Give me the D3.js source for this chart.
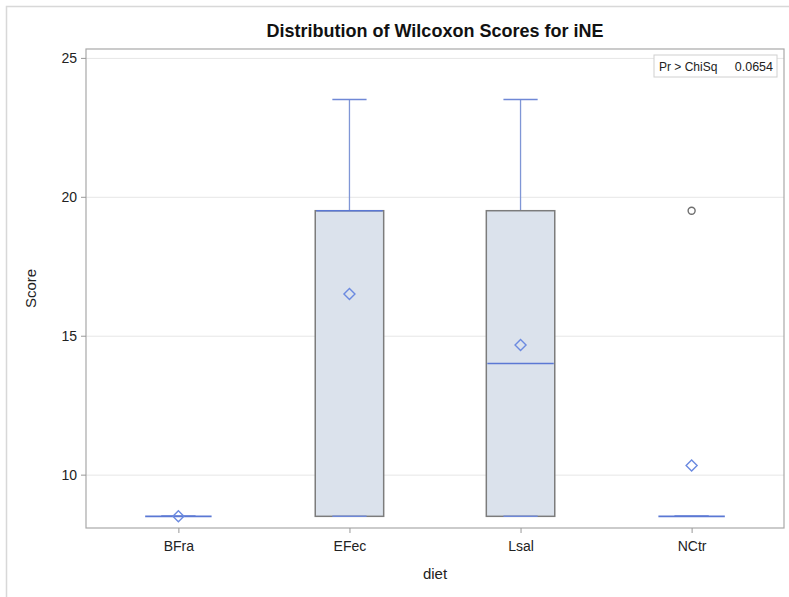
<!DOCTYPE html>
<html>
<head>
<meta charset="utf-8">
<script src="https://cdn.jsdelivr.net/npm/d3@7"></script>
<style>
  html, body { margin: 0; padding: 0; background: #fff; }
  svg { display: block; font-family: "Liberation Sans", Arial, sans-serif; }
</style>
</head>
<body>
<svg id="chart" width="789" height="597"></svg>
<script>
// Wilcoxon score summaries per diet group
const categories = ["BFra", "EFec", "Lsal", "NCtr"];
const whiskerLow = [8.5, 8.5, 8.5, 8.5];
const q1 = [8.5, 8.5, 8.5, 8.5];
const median = [8.5, 19.5, 14.0, 8.5];
const q3 = [8.5, 19.5, 19.5, 8.5];
const whiskerHigh = [8.5, 23.5, 23.5, 8.5];
const means = [8.5, 16.5, 14.67, 10.33];
const outliers = [[], [], [], [19.5]];
const yTicks = [10, 15, 20, 25];
const pValueLabel = "Pr > ChiSq";
const pValue = "0.0654";

const svg = d3.select("#chart");
const W = 789, H = 597;
const margin = { left: 86, right: 5, top: 49, bottom: 69 };
const plotL = margin.left, plotR = W - margin.right, plotT = margin.top, plotB = H - margin.bottom;

// outer frame
svg.append("path")
  .attr("d", `M6.5,${H} V6.5 H${W}`)
  .attr("fill", "none").attr("stroke", "#d8d8d8").attr("stroke-width", 1.5);

const x = d3.scalePoint().domain(categories).range([plotL, plotR]).padding(0.54);
const y = d3.scaleLinear().domain([8.08, 25.32]).range([plotB, plotT]);
const boxW = x.step() * 0.4;

// gridlines
svg.append("g").selectAll("line").data(yTicks).join("line")
  .attr("x1", plotL).attr("x2", plotR)
  .attr("y1", d => y(d) + 0.5).attr("y2", d => y(d) + 0.5)
  .attr("stroke", "#e6e6e6").attr("stroke-width", 1);

// boxes
const g = svg.append("g");
categories.forEach((c, i) => {
  const cx = x(c);
  // whiskers
  g.append("line").attr("x1", cx).attr("x2", cx)
    .attr("y1", y(q3[i])).attr("y2", y(whiskerHigh[i]))
    .attr("stroke", "#7f96d6").attr("stroke-width", 1.3);
  g.append("line").attr("x1", cx).attr("x2", cx)
    .attr("y1", y(q1[i])).attr("y2", y(whiskerLow[i]))
    .attr("stroke", "#7f96d6").attr("stroke-width", 1.3);
  // box
  g.append("rect")
    .attr("x", cx - boxW / 2).attr("width", boxW)
    .attr("y", y(q3[i])).attr("height", Math.max(0, y(q1[i]) - y(q3[i])))
    .attr("fill", "#dbe2ec").attr("stroke", "#7c7c7c").attr("stroke-width", 1.5);
  // caps
  [whiskerHigh[i], whiskerLow[i]].forEach(v => {
    g.append("line").attr("x1", cx - boxW / 4).attr("x2", cx + boxW / 4)
      .attr("y1", y(v)).attr("y2", y(v))
      .attr("stroke", "#6f88d6").attr("stroke-width", 1.5);
  });
  // median
  g.append("line").attr("x1", cx - boxW / 2 + 1).attr("x2", cx + boxW / 2 - 1)
    .attr("y1", y(median[i])).attr("y2", y(median[i]))
    .attr("stroke", "#5b78d4").attr("stroke-width", 1.6);
  // mean
  const my = y(means[i]);
  g.append("path")
    .attr("d", `M${cx},${my - 5.5} L${cx + 5.5},${my} L${cx},${my + 5.5} L${cx - 5.5},${my} Z`)
    .attr("fill", "none").attr("stroke", "#6b8ae0").attr("stroke-width", 1.4);
  // outliers
  outliers[i].forEach(v => {
    g.append("circle").attr("cx", cx).attr("cy", y(v)).attr("r", 3.5)
      .attr("fill", "none").attr("stroke", "#6e6e6e").attr("stroke-width", 1.4);
  });
});

// plot frame
svg.append("rect")
  .attr("x", plotL).attr("y", plotT).attr("width", plotR - plotL).attr("height", plotB - plotT)
  .attr("fill", "none").attr("stroke", "#a8a8a8").attr("stroke-width", 1.2);

// axes
const yAxis = svg.append("g").attr("transform", `translate(${plotL},0)`)
  .call(d3.axisLeft(y).tickValues(yTicks).tickSize(5).tickPadding(4));
yAxis.select(".domain").remove();
yAxis.selectAll("line").attr("stroke", "#999");
yAxis.selectAll("text").attr("font-size", 14).attr("fill", "#222")
  .attr("font-family", "'Liberation Sans', Arial, sans-serif");

const xAxis = svg.append("g").attr("transform", `translate(0,${plotB})`)
  .call(d3.axisBottom(x).tickSize(5).tickPadding(8));
xAxis.select(".domain").remove();
xAxis.selectAll("line").attr("stroke", "#999");
xAxis.selectAll("text").attr("font-size", 14).attr("fill", "#222")
  .attr("font-family", "'Liberation Sans', Arial, sans-serif");

// axis titles
svg.append("text").attr("x", (plotL + plotR) / 2).attr("y", 579)
  .attr("text-anchor", "middle").attr("font-size", 15).attr("fill", "#222").text("diet");
svg.append("text")
  .attr("transform", `translate(36,${(plotT + plotB) / 2}) rotate(-90)`)
  .attr("text-anchor", "middle").attr("font-size", 15).attr("fill", "#222").text("Score");

// chart title
svg.append("text").attr("x", (plotL + plotR) / 2).attr("y", 37)
  .attr("text-anchor", "middle").attr("font-size", 18).attr("font-weight", "bold")
  .attr("fill", "#111").text("Distribution of Wilcoxon Scores for iNE");

// test statistic inset
const inset = svg.append("g").attr("transform", `translate(${plotR - 7},${plotT + 6})`);
inset.append("rect").attr("x", -123).attr("y", 0).attr("width", 123).attr("height", 22)
  .attr("fill", "#fff").attr("stroke", "#d0d0d0").attr("stroke-width", 1);
inset.append("text").attr("x", -118).attr("y", 15.5).attr("text-anchor", "start")
  .attr("font-size", 12).attr("fill", "#222").text(pValueLabel);
inset.append("text").attr("x", -4).attr("y", 15.5).attr("text-anchor", "end")
  .attr("font-size", 12.5).attr("fill", "#222").text(pValue);
</script>
</body>
</html>
